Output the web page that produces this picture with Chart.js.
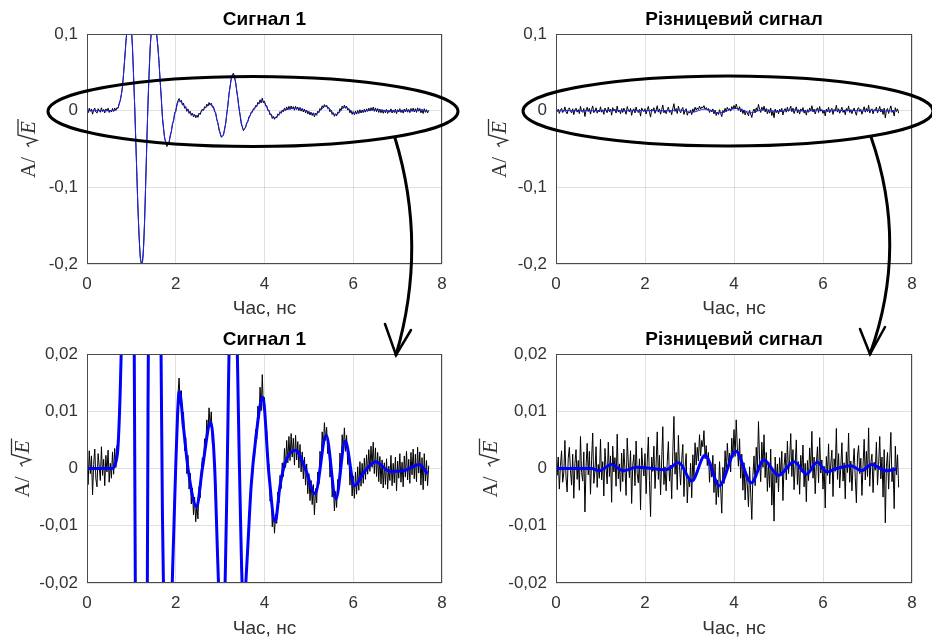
<!DOCTYPE html>
<html>
<head>
<meta charset="utf-8">
<script src="https://cdn.jsdelivr.net/npm/chart.js@4.4.1/dist/chart.umd.min.js"></script>
<style>
    body { margin: 0; background: #fff; overflow: hidden; }
    #page { position: relative; width: 932px; height: 637px; }
    .panel { position: absolute; }
    #overlay { position: absolute; left: 0; top: 0; pointer-events: none; }
</style>
</head>
<body>
<div id="page">
    <canvas id="c1" class="panel" width="466" height="320" style="left:0;top:0"></canvas>
    <canvas id="c2" class="panel" width="466" height="320" style="left:466px;top:0"></canvas>
    <canvas id="c3" class="panel" width="466" height="320" style="left:0;top:320px"></canvas>
    <canvas id="c4" class="panel" width="466" height="320" style="left:466px;top:320px"></canvas>
    <canvas id="overlay" width="932" height="637"></canvas>
</div>
<script>
// sampling step of the noisy traces (ns)
const noiseStep = 0.025;

const xTicks = [0, 2, 4, 6, 8];
const yTicksWide = [-0.2, -0.1, 0, 0.1];
const yTicksZoom = [-0.02, -0.01, 0, 0.01, 0.02];

const titleSignal = 'Сигнал 1';
const titleDiff = 'Різницевий сигнал';
const xLabel = 'Час, нс';

// Signal 1, measured (black, noisy)
const sig1Noisy = [
    0.0012, -0.0028, 0.0031, -0.0009, 0.0022, -0.0046, 0.0007, 0.0034, -0.0018, -0.0032,
    0.0026, 0.0004, -0.0021, 0.0038, -0.0012, 0.0016, -0.0030, 0.0023, -0.0006, 0.0032,
    -0.0024, 0.0009, -0.0017, 0.0029, -0.0010, 0.0035, 0.0002, 0.0040, 0.0031, 0.0096,
    0.0132, 0.0215, 0.0314, 0.0490, 0.0673, 0.0891, 0.1032, 0.1180, 0.1231, 0.1228,
    0.1070, 0.0831, 0.0442, 0.0060, -0.0413, -0.0862, -0.1310, -0.1651, -0.1912, -0.1990,
    -0.1978, -0.1769, -0.1412, -0.0890, -0.0361, 0.0112, 0.0489, 0.0840, 0.1041, 0.1160,
    0.1142, 0.1139, 0.1052, 0.0971, 0.0808, 0.0613, 0.0370, 0.0164, -0.0091, -0.0227,
    -0.0363, -0.0406, -0.0468, -0.0432, -0.0425, -0.0321, -0.0274, -0.0168, -0.0139, -0.0027,
    -0.0012, 0.0084, 0.0129, 0.0158, 0.0111, 0.0136, 0.0072, 0.0098, 0.0031, 0.0054,
    -0.0009, 0.0023, -0.0036, -0.0008, -0.0062, -0.0034, -0.0081, -0.0050, -0.0093, -0.0064,
    -0.0088, -0.0032, -0.0051, -0.0004, 0.0019, 0.0003, 0.0052, 0.0036, 0.0085, 0.0060,
    0.0106, 0.0073, 0.0099, 0.0044, 0.0051, -0.0013, -0.0025, -0.0114, -0.0160, -0.0253,
    -0.0291, -0.0346, -0.0332, -0.0320, -0.0238, -0.0171, -0.0039, 0.0072, 0.0220, 0.0311,
    0.0423, 0.0462, 0.0489, 0.0431, 0.0370, 0.0252, 0.0161, 0.0030, -0.0062, -0.0171,
    -0.0210, -0.0262, -0.0231, -0.0220, -0.0158, -0.0141, -0.0076, -0.0069, -0.0018, -0.0022,
    0.0026, 0.0019, 0.0068, 0.0052, 0.0109, 0.0087, 0.0142, 0.0101, 0.0164, 0.0103,
    0.0124, 0.0061, 0.0066, 0.0003, 0.0008, -0.0057, -0.0046, -0.0102, -0.0075, -0.0113,
    -0.0080, -0.0096, -0.0041, -0.0060, -0.0012, -0.0035, 0.0010, -0.0014, 0.0035, 0.0002,
    0.0049, 0.0010, 0.0056, 0.0014, 0.0061, 0.0020, 0.0053, 0.0006, 0.0058, 0.0015,
    0.0047, 0.0001, 0.0042, -0.0006, 0.0029, -0.0018, 0.0020, -0.0029, 0.0008, -0.0044,
    -0.0009, -0.0056, -0.0021, -0.0063, -0.0028, -0.0081, -0.0035, -0.0060, -0.0006, -0.0027,
    0.0030, 0.0011, 0.0064, 0.0035, 0.0080, 0.0049, 0.0072, 0.0026, 0.0040, -0.0015,
    0.0006, -0.0050, -0.0027, -0.0074, -0.0040, -0.0068, -0.0019, -0.0031, 0.0027, 0.0004,
    0.0059, 0.0032, 0.0071, 0.0030, 0.0058, 0.0007, 0.0026, -0.0029, 0.0001, -0.0048,
    -0.0013, -0.0052, -0.0006, -0.0045, 0.0003, -0.0038, 0.0012, -0.0031, 0.0009, -0.0026,
    0.0018, -0.0019, 0.0024, -0.0010, 0.0033, -0.0005, 0.0039, 0.0002, 0.0046, -0.0009,
    0.0036, -0.0014, 0.0028, -0.0023, 0.0021, -0.0027, 0.0015, -0.0034, 0.0010, -0.0028,
    0.0017, -0.0036, 0.0004, -0.0021, 0.0023, -0.0030, 0.0009, -0.0025, 0.0020, -0.0039,
    0.0013, -0.0017, 0.0026, -0.0024, 0.0011, -0.0032, 0.0022, -0.0015, 0.0030, -0.0020,
    0.0016, -0.0026, 0.0028, -0.0011, 0.0034, -0.0018, 0.0025, -0.0023, 0.0037, -0.0008,
    0.0029, -0.0029, 0.0019, -0.0037, 0.0026, -0.0022, 0.0014, -0.0030, 0.0005
];

// Signal 1, filtered (blue) - time / value pairs
const sig1T = [0, 0.3, 0.56, 0.65, 0.7, 0.75, 0.8, 0.85, 0.9, 0.95, 1.0, 1.05, 1.1, 1.15, 1.2, 1.235,
    1.275, 1.325, 1.375, 1.425, 1.49, 1.55, 1.6, 1.65, 1.7, 1.75, 1.81, 1.875, 1.925, 2.0, 2.08, 2.18,
    2.28, 2.47, 2.6, 2.79, 2.875, 2.95, 3.04, 3.1, 3.16, 3.225, 3.29, 3.35, 3.43, 3.53, 3.6, 3.7, 3.8,
    3.96, 4.1, 4.24, 4.35, 4.47, 4.7, 4.92, 5.14, 5.39, 5.61, 5.82, 6.03, 6.23, 6.5, 6.83, 7.13, 7.49, 7.67];
const sig1Y = [0, 0, 0, 0.0011, 0.004, 0.014, 0.032, 0.068, 0.104, 0.124, 0.108, 0.045, -0.04, -0.13, -0.19, -0.2,
    -0.178, -0.09, 0.01, 0.083, 0.116, 0.106, 0.082, 0.038, -0.008, -0.035, -0.045, -0.034, -0.019, 0.0005, 0.0135, 0.0068,
    -0.0002, -0.0067, 0, 0.0081, 0.0005, -0.017, -0.034, -0.025, 0, 0.032, 0.048, 0.036, 0.002, -0.025, -0.017, -0.003, 0.005,
    0.0125, -0.001, -0.0093, -0.003, 0.0011, 0.0032, 0, -0.0044, 0.0058, -0.0053, 0.0048, -0.003, -0.0008, 0.0012, -0.0005, -0.0004, 0.0007, -0.0009];

// Difference signal, measured (black, noisy)
const diffNoisy = [
    0.0043, -0.0012, 0.0020, -0.0036, 0.0005, 0.0031, -0.0024, -0.0008, 0.0049, -0.0015,
    -0.0041, 0.0018, 0.0037, -0.0003, -0.0029, 0.0025, -0.0052, 0.0009, 0.0033, -0.0019,
    0.0014, -0.0038, 0.0056, -0.0007, -0.0022, 0.0029, -0.0076, 0.0002, 0.0044, -0.0011,
    0.0030, -0.0045, 0.0016, 0.0062, -0.0026, -0.0004, 0.0038, -0.0033, 0.0007, -0.0017,
    0.0051, -0.0020, 0.0012, -0.0048, 0.0035, 0.0001, -0.0027, 0.0046, -0.0014, 0.0022,
    -0.0059, 0.0039, -0.0006, 0.0019, -0.0031, 0.0060, -0.0018, 0.0008, -0.0040, 0.0027,
    -0.0023, 0.0034, -0.0002, -0.0047, 0.0053, 0.0010, -0.0016, 0.0031, -0.0061, 0.0006,
    0.0024, -0.0030, 0.0048, -0.0009, -0.0025, 0.0017, -0.0072, 0.0036, 0.0004, -0.0013,
    0.0026, -0.0044, 0.0011, 0.0055, -0.0021, -0.0084, 0.0020, -0.0005, 0.0039, -0.0035,
    0.0008, 0.0064, -0.0019, 0.0023, -0.0046, 0.0015, 0.0073, -0.0028, 0.0003, -0.0039,
    0.0012, 0.0047, -0.0022, 0.0006, -0.0053, 0.0030, 0.0091, -0.0010, 0.0028, -0.0037,
    0.0058, 0.0004, -0.0029, 0.0016, 0.0042, -0.0049, 0.0001, 0.0026, -0.0060, -0.0014,
    -0.0032, 0.0009, -0.0051, 0.0024, -0.0018, 0.0045, 0.0006, 0.0037, 0.0013, 0.0059,
    0.0022, 0.0049, 0.0038, 0.0066, 0.0017, 0.0040, 0.0005, 0.0028, -0.0024, 0.0011,
    -0.0015, 0.0023, -0.0042, 0.0008, -0.0063, -0.0020, -0.0050, 0.0012, -0.0034, -0.0078,
    0.0002, -0.0026, 0.0031, -0.0011, 0.0044, 0.0009, 0.0027, -0.0006, 0.0053, 0.0019,
    0.0068, 0.0021, 0.0085, 0.0036, 0.0004, 0.0052, -0.0017, 0.0025, -0.0038, 0.0010,
    -0.0055, -0.0008, -0.0029, -0.0067, 0.0003, -0.0043, -0.0089, -0.0012, 0.0022, -0.0030,
    0.0037, -0.0004, 0.0082, 0.0015, -0.0023, 0.0046, 0.0002, 0.0059, -0.0016, 0.0028,
    -0.0040, 0.0011, -0.0033, 0.0034, -0.0064, -0.0007, -0.0092, 0.0020, -0.0025, 0.0008,
    -0.0041, 0.0019, -0.0013, 0.0030, -0.0056, 0.0005, 0.0027, -0.0020, 0.0048, -0.0009,
    0.0016, 0.0061, -0.0014, 0.0033, -0.0037, 0.0006, 0.0050, -0.0028, 0.0012, -0.0045,
    0.0023, -0.0006, 0.0041, -0.0032, 0.0009, -0.0058, 0.0014, -0.0021, 0.0036, -0.0003,
    0.0065, -0.0017, 0.0020, -0.0044, 0.0007, 0.0038, -0.0025, 0.0054, -0.0008, 0.0015,
    -0.0036, 0.0004, -0.0069, 0.0021, -0.0012, 0.0043, -0.0027, 0.0008, 0.0032, -0.0049,
    0.0017, -0.0005, 0.0070, -0.0019, 0.0026, -0.0034, 0.0003, 0.0045, -0.0022, 0.0010,
    -0.0053, 0.0029, -0.0007, 0.0062, -0.0024, 0.0013, -0.0039, 0.0005, 0.0035, -0.0016,
    -0.0060, 0.0022, 0.0040, -0.0009, 0.0018, -0.0047, 0.0006, 0.0051, -0.0020, 0.0030,
    -0.0014, 0.0071, -0.0031, 0.0009, 0.0025, -0.0042, 0.0011, -0.0003, 0.0046, -0.0029,
    0.0007, 0.0056, -0.0018, 0.0020, -0.0050, 0.0033, -0.0095, 0.0004, 0.0028, -0.0036,
    0.0016, 0.0063, -0.0023, 0.0002, -0.0070, 0.0039, -0.0011, 0.0024, -0.0033
];

// Difference signal, filtered (blue)
const diffT = [0, 0.8, 0.97, 1.25, 1.51, 1.81, 2.05, 2.47, 2.76, 3.05, 3.35, 3.67, 4.04, 4.39, 4.67,
    5.0, 5.35, 5.63, 5.87, 6.09, 6.3, 6.63, 6.87, 7.09, 7.43, 7.66];
const diffY = [0, 0, -0.0004, 0.0007, -0.0004, 0.0002, 0.0001, -0.0002, 0.001, -0.0022, 0.0023, -0.003, 0.003, -0.0025, 0.0015,
    -0.0012, 0.0012, -0.001, 0.0011, -0.0006, 0, 0.0005, -0.0004, 0.0007, -0.0004, -0.0001];

const FONT = '"Liberation Sans", Arial, sans-serif';
const TXT = '#333333';
const GRID = 'rgba(0,0,0,0.12)';

function fmtTick(v) {
    return String(Math.round(v * 1000) / 1000).replace('.', ',');
}

function noisyPoints(arr) {
    return arr.map((v, i) => ({ x: i * noiseStep, y: v }));
}

function pairPoints(ts, ys) {
    return ts.map((t, i) => ({ x: t, y: ys[i] }));
}

// full box around the plot area
const boxPlugin = {
    id: 'box',
    afterDraw(chart) {
        const { ctx, chartArea: a } = chart;
        ctx.save();
        ctx.strokeStyle = '#4a4a4a';
        ctx.lineWidth = 1;
        ctx.strokeRect(Math.round(a.left) + 0.5, Math.round(a.top) + 0.5,
            Math.round(a.right - a.left) - 1, Math.round(a.bottom - a.top) - 1);
        ctx.restore();
    }
};

// y label "A/ sqrt(E)" drawn rotated
const yLabelPlugin = {
    id: 'yLabel',
    afterDraw(chart, args, opts) {
        const { ctx, chartArea } = chart;
        const cy = (chartArea.top + chartArea.bottom) / 2;
        const up = '21px "Liberation Serif", "DejaVu Serif", serif';
        const it = 'italic ' + up;
        ctx.save();
        ctx.translate(opts.x, cy);
        ctx.rotate(-Math.PI / 2);
        ctx.fillStyle = TXT;
        ctx.strokeStyle = TXT;
        ctx.textBaseline = 'alphabetic';
        ctx.font = up;
        const wA = ctx.measureText('A/').width;
        ctx.font = it;
        const wE = ctx.measureText('E').width;
        const gap = 10, wR = 12;
        const total = wA + gap + wR + wE + 2;
        const base = 7, top = base - 17;
        let x = -total / 2;
        ctx.font = up;
        ctx.fillText('A/', x, base);
        x += wA + gap;
        ctx.lineWidth = 1.3;
        ctx.beginPath();
        ctx.moveTo(x, base - 6);
        ctx.lineTo(x + 3, base - 8);
        ctx.lineTo(x + 6.5, base + 2);
        ctx.lineTo(x + wR, top);
        ctx.lineTo(x + wR + wE + 3, top);
        ctx.stroke();
        ctx.font = it;
        ctx.fillText('E', x + wR + 1, base);
        ctx.restore();
    }
};

function makePanel(id, p) {
    return new Chart(document.getElementById(id), {
        type: 'line',
        data: {
            datasets: [
                {
                    data: p.blue, borderColor: p.blueColor, borderWidth: p.blueWidth,
                    pointRadius: 0, cubicInterpolationMode: 'monotone', fill: false
                },
                {
                    data: p.black, borderColor: '#000000', borderWidth: 1,
                    pointRadius: 0, tension: 0, fill: false
                }
            ]
        },
        options: {
            responsive: false,
            animation: false,
            events: [],
            layout: { padding: { left: 0, right: p.padRight, top: 0, bottom: 0 } },
            plugins: {
                legend: { display: false },
                tooltip: { enabled: false },
                title: {
                    display: true, text: p.title, fullSize: false, color: '#000',
                    font: { family: FONT, size: 19, weight: 'bold' },
                    padding: { top: 8, bottom: 3.2 }
                },
                yLabel: { x: p.labelX }
            },
            scales: {
                x: {
                    type: 'linear', min: 0, max: 8,
                    afterBuildTicks: s => { s.ticks = xTicks.map(v => ({ value: v })); },
                    afterFit: s => { s.height = p.xHeight; },
                    ticks: { padding: 10, color: TXT, font: { family: FONT, size: 17 }, maxRotation: 0 },
                    grid: { color: GRID, drawTicks: false },
                    border: { display: false },
                    title: { display: true, text: xLabel, color: TXT, font: { family: FONT, size: 19 }, padding: 0 }
                },
                y: {
                    type: 'linear', min: p.yTicks[0], max: p.yTicks[p.yTicks.length - 1],
                    afterBuildTicks: s => { s.ticks = p.yTicks.map(v => ({ value: v })); },
                    afterFit: s => { s.width = p.yWidth; },
                    ticks: { padding: 9, color: TXT, font: { family: FONT, size: 17 }, callback: v => fmtTick(v) },
                    grid: { color: GRID, drawTicks: false },
                    border: { display: false }
                }
            }
        },
        plugins: [boxPlugin, yLabelPlugin]
    });
}

function drawOverlay() {
    const ctx = document.getElementById('overlay').getContext('2d');
    ctx.strokeStyle = '#000';
    ctx.lineCap = 'round';
    ctx.lineWidth = 3;
    [[253, 111.5], [728, 111]].forEach(([cx, cy]) => {
        ctx.beginPath();
        ctx.ellipse(cx, cy, 205, 35, 0, 0, Math.PI * 2);
        ctx.stroke();
    });
    const arrows = [
        { s: [395, 138], c: [428, 246], e: [396, 355], l: [385, 324], r: [411, 330] },
        { s: [871, 137], c: [909, 246], e: [870, 354], l: [860, 329], r: [885, 327] }
    ];
    arrows.forEach(a => {
        ctx.lineWidth = 3;
        ctx.beginPath();
        ctx.moveTo(a.s[0], a.s[1]);
        ctx.quadraticCurveTo(a.c[0], a.c[1], a.e[0], a.e[1]);
        ctx.stroke();
        ctx.lineWidth = 2.5;
        ctx.beginPath();
        ctx.moveTo(a.l[0], a.l[1]);
        ctx.lineTo(a.e[0], a.e[1]);
        ctx.lineTo(a.r[0], a.r[1]);
        ctx.stroke();
    });
}

Chart.defaults.font.family = FONT;

makePanel('c1', {
    title: titleSignal, yTicks: yTicksWide, yWidth: 87, padRight: 24, xHeight: 56, labelX: 28,
    blue: pairPoints(sig1T, sig1Y), black: noisyPoints(sig1Noisy), blueColor: '#1f1fff', blueWidth: 1
});
makePanel('c2', {
    title: titleDiff, yTicks: yTicksWide, yWidth: 90, padRight: 20, xHeight: 56, labelX: 32.5,
    blue: pairPoints(diffT, diffY), black: noisyPoints(diffNoisy), blueColor: '#1f1fff', blueWidth: 1
});
makePanel('c3', {
    title: titleSignal, yTicks: yTicksZoom, yWidth: 87, padRight: 24, xHeight: 57, labelX: 21.5,
    blue: pairPoints(sig1T, sig1Y), black: noisyPoints(sig1Noisy), blueColor: '#0000ff', blueWidth: 3
});
makePanel('c4', {
    title: titleDiff, yTicks: yTicksZoom, yWidth: 90, padRight: 20, xHeight: 57, labelX: 23.5,
    blue: pairPoints(diffT, diffY), black: noisyPoints(diffNoisy), blueColor: '#0000ff', blueWidth: 3
});

drawOverlay();
</script>
</body>
</html>
